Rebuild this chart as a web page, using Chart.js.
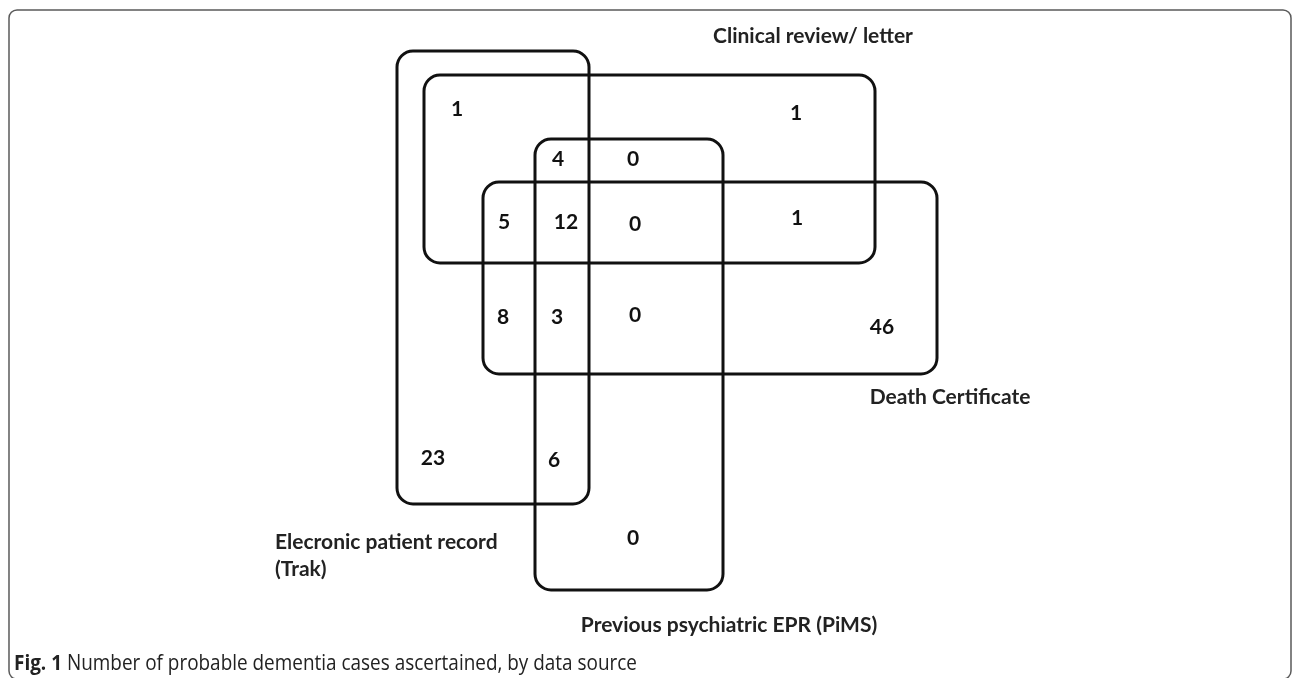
<!DOCTYPE html>
<html>
<head>
<meta charset="utf-8">
<title>Fig. 1</title>
<script src="https://cdn.jsdelivr.net/npm/chart.js@4/dist/chart.umd.min.js"></script>
<style>
  html, body { margin: 0; padding: 0; background: #fff; }
  #wrap { width: 1292px; height: 678px; }
</style>
</head>
<body>
<div id="wrap"><canvas id="venn" width="1292" height="678"></canvas></div>
<script>
(function () {
  "use strict";

  // data sources (the four sets)
  var setNames = ["Elecronic patient record", "Clinical review/ letter", "Previous psychiatric EPR (PiMS)", "Death Certificate"];
  // region membership (T = Trak, C = Clinical, P = PiMS, D = Death cert.)
  var regionKeys = ["TC", "C", "TCP", "CP", "TCD", "TCPD", "CPD", "CD", "TD", "TPD", "PD", "D", "T", "TP", "P"];
  var regionCounts = [1, 1, 4, 0, 5, 12, 0, 1, 8, 3, 0, 46, 23, 6, 0];

  // layout, in diagram units (x 0..1292, y 0..678 downwards)
  var setBoxes = [
    [397, 51, 589, 504],
    [424, 75, 875, 263],
    [535, 139, 723, 590],
    [483, 182, 937, 374]
  ];
  var regionX = [457, 796, 558, 633, 504, 566, 635, 797, 503, 557, 635, 882, 433, 554, 633];
  var regionY = [109, 113, 159, 159, 222, 222, 224, 218, 317, 317, 315, 327, 458, 460, 538];
  var setLabels = [
    { lines: ["Elecronic patient record", "(Trak)"], x: 275, y: 542, align: "left" },
    { lines: [setNames[1]], x: 813, y: 36, align: "center" },
    { lines: [setNames[2]], x: 729, y: 625, align: "center" },
    { lines: [setNames[3]], x: 950, y: 397, align: "center" }
  ];

  var regionPoints = regionX.map(function (x, i) {
    return { x: x, y: regionY[i], key: regionKeys[i] };
  });

  function roundRect(ctx, x0, y0, x1, y1, r) {
    ctx.beginPath();
    ctx.moveTo(x0 + r, y0);
    ctx.lineTo(x1 - r, y0);
    ctx.arcTo(x1, y0, x1, y0 + r, r);
    ctx.lineTo(x1, y1 - r);
    ctx.arcTo(x1, y1, x1 - r, y1, r);
    ctx.lineTo(x0 + r, y1);
    ctx.arcTo(x0, y1, x0, y1 - r, r);
    ctx.lineTo(x0, y0 + r);
    ctx.arcTo(x0, y0, x0 + r, y0, r);
    ctx.closePath();
  }

  var vennPlugin = {
    id: "venn",
    beforeDatasetsDraw: function (chart) {
      var ctx = chart.ctx;
      var sx = chart.scales.x;
      var sy = chart.scales.y;
      ctx.save();

      // figure frame
      ctx.strokeStyle = "#5a5a5a";
      ctx.lineWidth = 1.5;
      roundRect(ctx, 9, 10, 1291, 679, 8);
      ctx.stroke();

      ctx.strokeStyle = "#111";
      ctx.lineWidth = 3;
      setBoxes.forEach(function (b) {
        roundRect(ctx, sx.getPixelForValue(b[0]), sy.getPixelForValue(b[1]),
          sx.getPixelForValue(b[2]), sy.getPixelForValue(b[3]), 16);
        ctx.stroke();
      });

      ctx.fillStyle = "#222";
      ctx.textBaseline = "middle";
      ctx.font = "bold 21px Lato";
      setLabels.forEach(function (lab) {
        ctx.textAlign = lab.align;
        lab.lines.forEach(function (line, i) {
          ctx.fillText(line, sx.getPixelForValue(lab.x), sy.getPixelForValue(lab.y + i * 27));
        });
      });

      // caption
      var bold = "Fig. 1";
      var rest = " Number of probable dementia cases ascertained, by data source";
      ctx.textAlign = "left";
      ctx.font = "bold 22px 'Open Sans'";
      var wb = ctx.measureText(bold).width;
      ctx.font = "22px 'Open Sans'";
      var wr = ctx.measureText(rest).width;
      var k = 623 / (wb + wr);
      ctx.translate(14, 664);
      ctx.scale(k, 1);
      ctx.font = "bold 22px 'Open Sans'";
      ctx.fillText(bold, 0, 0);
      ctx.font = "22px 'Open Sans'";
      ctx.fillText(rest, wb, 0);
      ctx.restore();
    },
    afterDatasetsDraw: function (chart) {
      var ctx = chart.ctx;
      var meta = chart.getDatasetMeta(0);
      ctx.save();
      ctx.fillStyle = "#111";
      ctx.font = "bold 21px Lato";
      ctx.textAlign = "center";
      ctx.textBaseline = "middle";
      meta.data.forEach(function (pt, i) {
        ctx.fillText(String(regionCounts[i]), pt.x, pt.y);
      });
      ctx.restore();
    }
  };

  new Chart(document.getElementById("venn").getContext("2d"), {
    type: "scatter",
    data: {
      datasets: [{
        label: "Cases",
        data: regionPoints,
        pointRadius: 0,
        pointHoverRadius: 0
      }]
    },
    options: {
      responsive: false,
      animation: false,
      layout: { padding: 0 },
      plugins: { legend: { display: false }, tooltip: { enabled: false } },
      scales: {
        x: { type: "linear", min: 0, max: 1292, display: false },
        y: { type: "linear", min: 0, max: 678, reverse: true, display: false }
      }
    },
    plugins: [vennPlugin]
  });
})();
</script>
</body>
</html>
